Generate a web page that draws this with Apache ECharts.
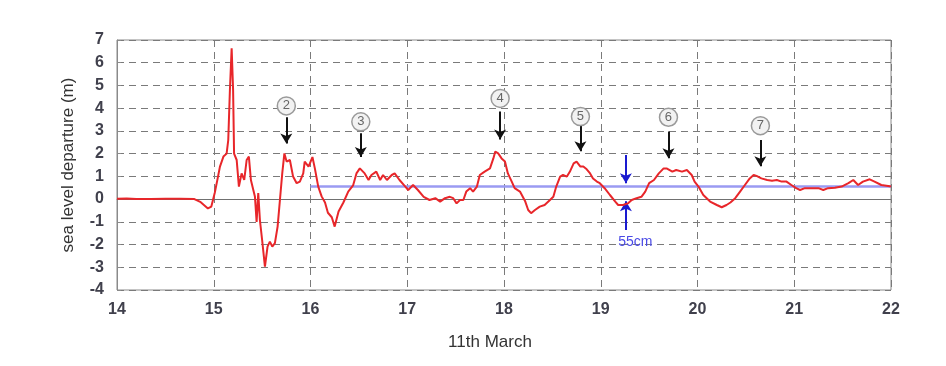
<!DOCTYPE html>
<html>
<head>
<meta charset="utf-8">
<script src="https://cdn.jsdelivr.net/npm/echarts@6/dist/echarts.min.js"></script>
<style>html,body{margin:0;padding:0;background:#fff;}#c{width:946px;height:366px;}</style>
</head>
<body>
<div id="c"></div>
<script>
// Time axis (days of March) and sea level departure (m)
const days = [14.00,14.10,14.20,14.35,14.50,14.65,14.80,14.86,14.91,14.94,14.975,15.01,15.04,15.064,15.10,15.133,15.15,15.167,15.185,15.20,15.21,15.237,15.26,15.288,15.315,15.34,15.363,15.384,15.409,15.426,15.443,15.46,15.477,15.50,15.529,15.556,15.58,15.605,15.632,15.66,15.684,15.708,15.73,15.753,15.787,15.82,15.857,15.89,15.925,15.94,15.98,16.02,16.045,16.08,16.115,16.15,16.18,16.22,16.25,16.29,16.34,16.39,16.44,16.475,16.51,16.56,16.60,16.63,16.68,16.72,16.75,16.79,16.84,16.87,16.92,16.98,17.01,17.06,17.11,17.17,17.23,17.29,17.34,17.39,17.44,17.475,17.51,17.545,17.58,17.61,17.65,17.68,17.72,17.75,17.80,17.855,17.89,17.91,17.94,17.975,18.01,18.04,18.08,18.11,18.165,18.22,18.25,18.28,18.32,18.37,18.42,18.475,18.51,18.54,18.58,18.61,18.65,18.68,18.72,18.75,18.79,18.82,18.855,18.89,18.92,18.96,18.99,19.04,19.095,19.15,19.18,19.23,19.28,19.32,19.37,19.42,19.46,19.50,19.55,19.60,19.65,19.68,19.74,19.78,19.84,19.89,19.94,19.97,20.01,20.06,20.13,20.20,20.25,20.30,20.34,20.39,20.44,20.49,20.54,20.58,20.61,20.66,20.72,20.77,20.82,20.87,20.92,20.97,21.02,21.06,21.11,21.18,21.25,21.30,21.35,21.42,21.49,21.56,21.61,21.66,21.71,21.78,21.83,21.90,21.97,22.00];
const levels = [0.02,0.03,0.00,0.00,0.01,0.02,0.00,-0.12,-0.30,-0.41,-0.33,0.27,0.90,1.43,1.87,2.00,2.60,4.80,6.63,4.80,2.00,1.72,0.55,1.13,0.84,1.72,1.87,0.84,0.40,0.10,-1.00,0.26,-0.92,-1.80,-2.97,-2.09,-1.87,-2.09,-1.94,-1.21,-0.04,1.13,2.01,1.65,1.72,0.99,0.70,0.77,1.13,1.65,1.43,1.85,1.35,0.55,0.12,-0.15,-0.60,-0.80,-1.21,-0.55,-0.15,0.33,0.60,1.13,1.35,1.13,0.84,1.06,1.21,0.84,1.06,0.84,1.06,1.13,0.84,0.55,0.40,0.62,0.40,0.10,-0.04,0.04,-0.11,0.04,0.10,0.04,-0.19,-0.04,-0.04,0.33,0.48,0.33,0.55,1.06,1.21,1.35,1.79,2.09,2.01,1.79,1.65,1.13,0.77,0.48,0.33,-0.11,-0.48,-0.62,-0.48,-0.33,-0.26,-0.04,0.10,0.55,0.99,1.06,0.99,1.20,1.57,1.65,1.43,1.43,1.31,1.13,0.91,0.77,0.70,0.48,0.18,-0.11,-0.26,-0.26,-0.19,-0.04,0.04,0.10,0.33,0.70,0.84,1.13,1.35,1.35,1.21,1.28,1.21,1.28,1.06,0.77,0.55,0.18,-0.11,-0.26,-0.36,-0.26,-0.15,0.04,0.33,0.62,0.91,1.06,1.02,0.91,0.84,0.81,0.84,0.77,0.77,0.62,0.48,0.40,0.48,0.48,0.48,0.40,0.48,0.50,0.55,0.70,0.84,0.62,0.77,0.87,0.77,0.62,0.58,0.55];

// Wave peak annotations
const peakLabels = ['2','3','4','5','6','7'];
const peakDays = [15.75, 16.52, 17.96, 18.79, 19.70, 20.65];
const circleLevels = [4.10, 3.40, 4.43, 3.63, 3.60, 3.23];
const arrowTops = [3.60, 2.90, 3.85, 3.26, 2.97, 2.60];
const arrowTips = [2.45, 1.85, 2.62, 2.10, 1.80, 1.45];

// Reference level (blue) and first-wave marker
const refLevel = 0.57;
const refStart = 16, refEnd = 22;
const firstWaveDay = 15.19;
const gapDay = 19.26;
const gapArrowDown = [1.94, 0.70];
const gapArrowUp = [-1.36, -0.10];
const gapLabel = '55cm';

const chart = echarts.init(document.getElementById('c'), null, {renderer: 'canvas'});

const font = 'Liberation Sans, Arial, sans-serif';
const dash = {color: '#7a7a7a', width: 1, type: [7, 5]};

const arrowLines = peakDays.map((d, i) => [
  {coord: [d, arrowTops[i]]},
  {coord: [d, arrowTips[i]]}
]);

const option = {
  backgroundColor: '#ffffff',
  animation: false,
  grid: {left: 117, right: 55, top: 40, bottom: 76, show: true, borderColor: '#8a8a8a', borderWidth: 1, backgroundColor: 'transparent'},
  xAxis: {
    type: 'value', min: 14, max: 22, interval: 1,
    name: '11th March', nameLocation: 'middle', nameGap: 44,
    nameTextStyle: {fontFamily: font, fontSize: 17, color: '#333', padding: [0, 28, 0, 0]},
    axisLine: {show: true, lineStyle: {color: '#8a8a8a'}},
    axisTick: {show: true, inside: true, length: 4, lineStyle: {color: '#8a8a8a'}},
    axisLabel: {fontFamily: font, fontSize: 16, color: '#40404c', margin: 12, fontWeight: 'bold'},
    splitLine: {show: true, lineStyle: dash}
  },
  yAxis: {
    type: 'value', min: -4, max: 7, interval: 1,
    name: 'sea level departure (m)', nameLocation: 'middle', nameGap: 40,
    nameTextStyle: {fontFamily: font, fontSize: 17, color: '#333'},
    axisLine: {show: true, lineStyle: {color: '#8a8a8a'}},
    axisTick: {show: true, inside: true, length: 4, lineStyle: {color: '#8a8a8a'}},
    axisLabel: {fontFamily: font, fontSize: 16, color: '#40404c', margin: 13, fontWeight: 'bold'},
    splitLine: {show: true, lineStyle: dash}
  },
  series: [
    {
      type: 'line', name: 'zero', data: [], silent: true,
      markLine: {
        silent: true, symbol: ['none', 'none'], label: {show: false},
        lineStyle: {color: '#707070', width: 1, type: 'solid'},
        data: [[{coord: [14, 0]}, {coord: [22, 0]}]]
      }
    },
    {
      type: 'line', name: 'ref', data: [], silent: true,
      markLine: {
        silent: true, symbol: ['none', 'none'], label: {show: false},
        lineStyle: {color: '#9a9af2', width: 2.5, type: 'solid'},
        data: [[{coord: [refStart, refLevel]}, {coord: [refEnd, refLevel]}]]
      }
    },
    {
      type: 'line', name: 'sea level', data: days.map((d, i) => [d, levels[i]]),
      showSymbol: false, symbol: 'none',
      lineStyle: {color: '#e8262a', width: 2},
      z: 5
    },
    {
      type: 'line', name: 'annotations', data: [], silent: true, clip: false, z: 6,
      markLine: {
        silent: true, symbol: ['none', 'arrow'], symbolSize: [9, 10], label: {show: false},
        lineStyle: {color: '#111', width: 2, type: 'solid'},
        data: arrowLines
      },
      markPoint: {
        silent: true,
        data: peakDays.map((d, i) => ({
          coord: [d, circleLevels[i]], symbol: 'circle', symbolSize: 18,
          itemStyle: {color: '#f2f2f2', borderColor: '#9a9a9a', borderWidth: 1.5},
          label: {show: true, formatter: peakLabels[i], color: '#666', fontSize: 13, fontFamily: font}
        })).concat([{
          coord: [firstWaveDay, 7.35], symbol: 'triangle', symbolRotate: 180, symbolSize: [7, 6],
          itemStyle: {color: '#111'}, label: {show: false}
        }])
      }
    },
    {
      type: 'line', name: 'gap', data: [], silent: true, clip: false, z: 6,
      markLine: {
        silent: true, symbol: ['none', 'arrow'], symbolSize: [9, 10], label: {show: false},
        lineStyle: {color: '#1a1ad0', width: 2, type: 'solid'},
        data: [
          [{coord: [gapDay, gapArrowDown[0]]}, {coord: [gapDay, gapArrowDown[1]]}],
          [{coord: [gapDay, gapArrowUp[0]]}, {coord: [gapDay, gapArrowUp[1]]}]
        ]
      },
      markPoint: {
        silent: true,
        data: [{
          coord: [19.18, -1.9], symbol: 'circle', symbolSize: 0,
          label: {show: true, formatter: gapLabel, color: '#4a4ae6', fontSize: 14, fontFamily: font, position: 'right', distance: 0}
        }]
      }
    }
  ]
};
chart.setOption(option);
</script>
</body>
</html>
